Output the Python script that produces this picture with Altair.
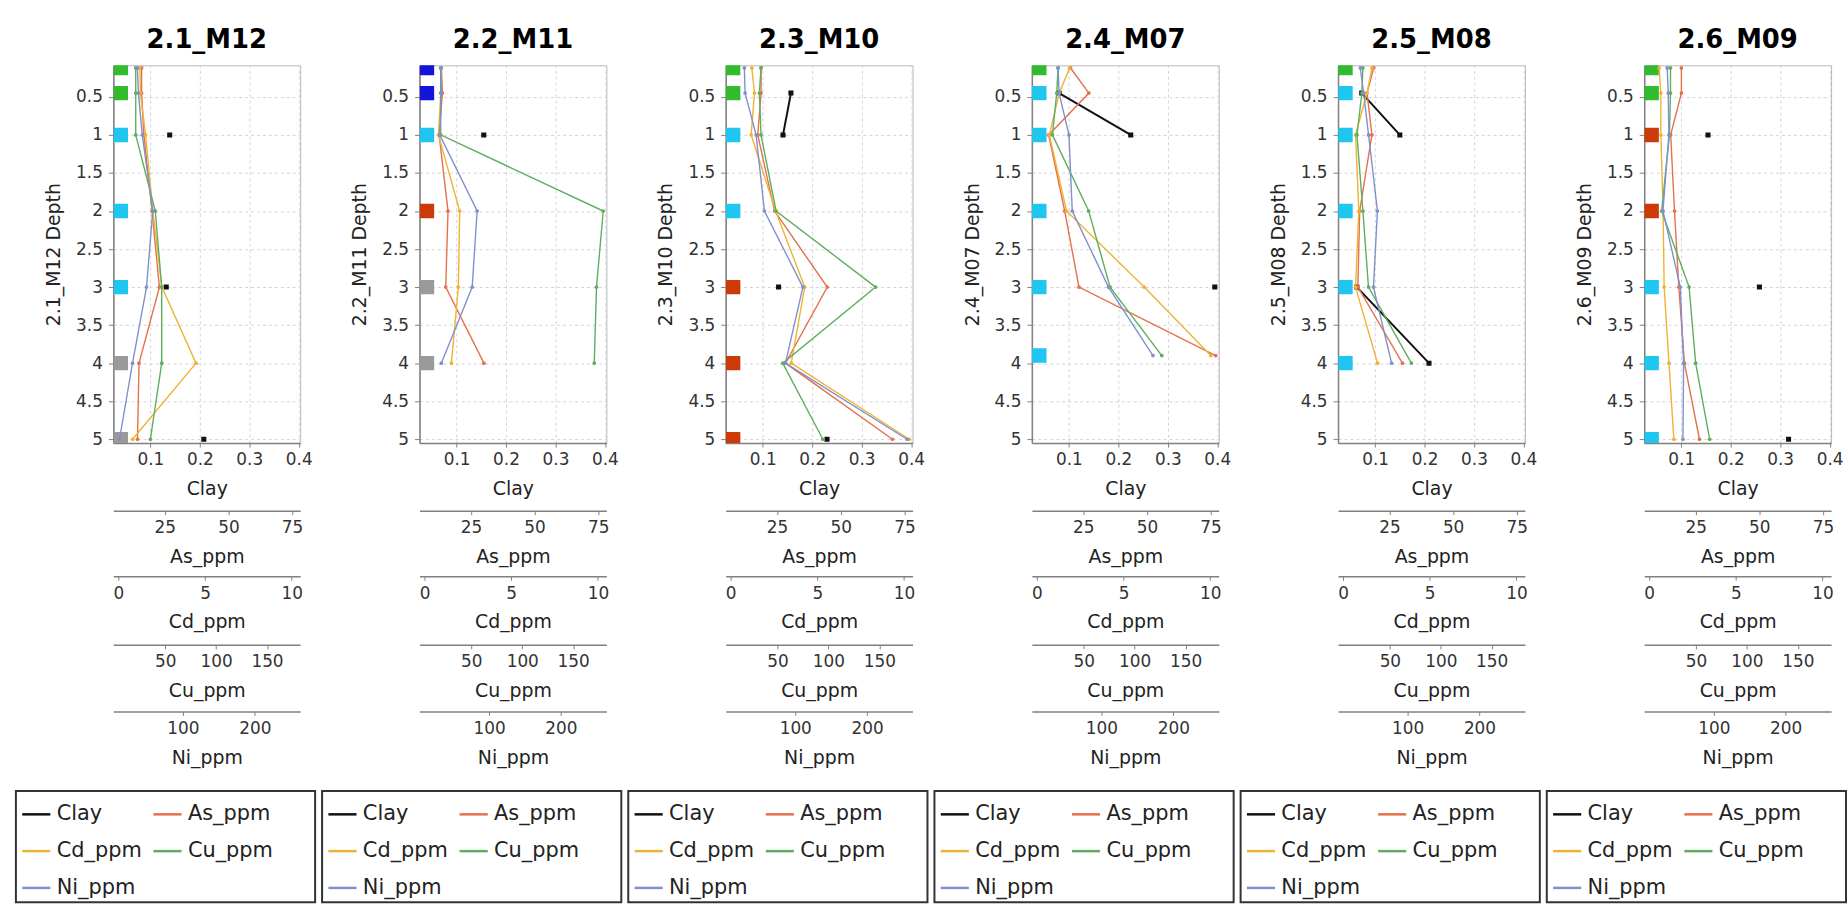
import altair as alt
import pandas as pd

# ---------------- data ----------------
WELLS = ["2.1_M12", "2.2_M11", "2.3_M10", "2.4_M07", "2.5_M08", "2.6_M09"]

WELL = (["2.1_M12"] * 7 + ["2.2_M11"] * 6 + ["2.3_M10"] * 7 +
        ["2.4_M07"] * 6 + ["2.5_M08"] * 6 + ["2.6_M09"] * 7)

DEPTH = [0.12, 0.45, 1, 2, 3, 4, 5,
         0.12, 0.45, 1, 2, 3, 4,
         0.12, 0.45, 1, 2, 3, 4, 5,
         0.12, 0.45, 1, 2, 3, 3.9,
         0.12, 0.45, 1, 2, 3, 4,
         0.12, 0.45, 1, 2, 3, 4, 5]

CLAY = [None, None, 0.139, None, 0.132, None, 0.208,
        None, None, 0.155, None, None, None,
        None, 0.157, 0.141, None, 0.132, None, 0.230,
        None, 0.080, 0.225, None, 0.395, None,
        None, 0.073, 0.150, None, 0.063, 0.209,
        None, None, 0.154, None, 0.258, None, 0.317]

AS_PPM = [15.9, 15.9, 16.8, 20.0, 22.9, 14.9, 14.3,
          13.4, 13.8, 12.5, 16.0, 15.1, 30.1,
          18.7, 18.7, 17.4, 24.0, 44.7, 28.3, 70.3,
          20.0, 27.2, 11.4, 17.7, 23.3, 77.0,
          18.8, 16.2, 18.1, 13.3, 12.6, 30.1,
          19.4, 19.4, 15.2, 16.7, 18.4, 20.6, 26.5]

CD_PPM = [1.24, 1.27, 1.57, 1.99, 2.51, 4.48, 0.82,
          0.94, 0.94, 0.80, 2.03, 1.95, 1.55,
          1.22, 1.37, 1.18, 2.59, 4.27, 3.49, 10.30,
          1.89, 1.29, 0.72, 1.71, 6.19, 10.03,
          1.67, 1.38, 0.72, 0.91, 0.72, 1.99,
          0.57, 0.67, 0.67, 0.80, 0.86, 1.14, 1.42]

CU_PPM = [21.1, 21.1, 21.1, 40.3, 46.6, 46.6, 35.5,
          19.9, 19.9, 19.9, 179.5, 172.9, 170.7,
          33.8, 32.2, 33.8, 48.6, 146.3, 55.1, 94.5,
          24.8, 23.5, 19.3, 54.9, 75.9, 126.7,
          23.5, 22.5, 17.7, 23.5, 29.0, 71.1,
          24.9, 24.9, 23.9, 16.2, 43.2, 49.6, 63.4]

NI_PPM = [36.7, 38.1, 43.5, 58.0, 49.4, 29.9, 11.8,
          32.7, 33.6, 31.3, 83.4, 76.5, 33.6,
          29.2, 30.2, 45.5, 57.1, 110.6, 86.4, 255.6,
          39.7, 41.1, 54.8, 59.4, 109.8, 171.7,
          34.2, 38.8, 45.7, 58.0, 52.5, 77.7,
          35.2, 36.6, 37.5, 29.3, 53.4, 58.0, 57.1]

G, C, GY, B, R = "#33bb2e", "#1ec6f0", "#9a9a9a", "#1414dc", "#cc3a08"
LITH = [G, G, C, C, C, GY, GY,
        B, B, C, R, GY, GY,
        G, G, C, C, R, R, R,
        G, C, C, C, C, C,
        G, C, C, C, C, C,
        G, G, R, R, C, C, C]

SERIES = ["Clay", "As_ppm", "Cd_ppm", "Cu_ppm", "Ni_ppm"]
SERIES_COLORS = ["#111111", "#e4704c", "#f0b233", "#5fae5f", "#8090cc"]
DOMAINS = {"Clay": [0.025, 0.403], "As_ppm": [4.8, 78.2], "Cd_ppm": [-0.29, 10.49],
           "Cu_ppm": [-0.9, 182.6], "Ni_ppm": [3.2, 263.2]}
TICKS = {"Clay": [0.1, 0.2, 0.3, 0.4], "As_ppm": [25, 50, 75], "Cd_ppm": [0, 5, 10],
         "Cu_ppm": [50, 100, 150], "Ni_ppm": [100, 200]}
FORMATS = {"Clay": ".1f", "As_ppm": "d", "Cd_ppm": "d", "Cu_ppm": "d", "Ni_ppm": "d"}
DEPTH_TICKS = [0.5, 1, 1.5, 2, 2.5, 3, 3.5, 4, 4.5, 5]

df = pd.DataFrame({"well": WELL, "depth": DEPTH, "Clay": CLAY, "As_ppm": AS_PPM,
                   "Cd_ppm": CD_PPM, "Cu_ppm": CU_PPM, "Ni_ppm": NI_PPM, "lith": LITH})

# ---------------- styling ----------------
FONT = "DejaVu Sans"
PW, PH = 188, 380
AXIS_OFFSETS = [0, 68, 134, 203, 270]
GRID = "#d4d4d4"
AXC = "#808080"


def plot_panel(well):
    d = df[df["well"] == well]
    base = alt.Chart(d)
    y = alt.Y("depth:Q",
              scale=alt.Scale(domain=[0.085, 5.05], reverse=True, nice=False, zero=False),
              axis=alt.Axis(title=f"{well} Depth", values=DEPTH_TICKS, format="~g",
                            labelFontSize=17, labelColor="#333", titleFontSize=19,
                            titleFontWeight="normal", titleColor="#222",
                            tickSize=5, labelPadding=6, minExtent=93,
                            titleX=-50, titleY=PH / 2, titleBaseline="bottom",
                            titleAngle=270,
                            grid=True, gridDash=[3, 3], gridColor=GRID,
                            domainColor=AXC, tickColor=AXC, domainWidth=1.5))
    lith = base.mark_square(size=210, opacity=1, clip=True).encode(
        x=alt.value(7.5), y=y, color=alt.Color("lith:N", scale=None))
    layers = [lith]
    for s, col, off in zip(SERIES, SERIES_COLORS, AXIS_OFFSETS):
        is_clay = s == "Clay"
        ax = alt.Axis(orient="bottom", offset=off, values=TICKS[s], format=FORMATS[s],
                      title=s, grid=is_clay, gridDash=[3, 3], gridColor=GRID,
                      labelFontSize=17, labelColor="#333", titleFontSize=19,
                      titleFontWeight="normal", titleColor="#222",
                      tickSize=4, labelPadding=5, titlePadding=12, labelFlush=False,
                      domainColor=AXC, tickColor=AXC, domainWidth=1.5)
        pt = alt.OverlayMarkDef(filled=True, size=26 if is_clay else 14,
                                shape="square" if is_clay else "circle",
                                color=col, opacity=1, clip=True)
        line = base.mark_line(color=col, strokeWidth=2 if is_clay else 1.4,
                              invalid="break-paths-filter-domains", point=pt,
                              clip=True).encode(
            x=alt.X(f"{s}:Q", scale=alt.Scale(domain=DOMAINS[s], nice=False, zero=False),
                    axis=ax),
            y=y,
            order=alt.Order("depth:Q"))
        layers.append(line)
    return alt.layer(*layers).resolve_scale(x="independent").properties(
        width=PW, height=PH,
        title=alt.TitleParams(text=well, fontSize=26, font=FONT, fontWeight="bold",
                              anchor="middle", offset=12, color="#000"),
        view=alt.ViewBackground(stroke="#b8b8b8", strokeWidth=1))


def spacer():
    return alt.Chart(pd.DataFrame({"series": SERIES[:1]})).mark_point(opacity=0).properties(
        width=1, height=1, view=alt.ViewBackground(strokeOpacity=0))


def legend_box():
    return alt.Chart(pd.DataFrame({"series": SERIES})).mark_point(opacity=0).encode(
        color=alt.Color("series:N", sort=SERIES,
                        scale=alt.Scale(domain=SERIES, range=SERIES_COLORS),
                        legend=alt.Legend(orient="none", legendX=5, legendY=8, columns=2,
                                          direction="horizontal",
                                          gridAlign="none", symbolType="stroke",
                                          symbolSize=800, symbolStrokeWidth=2.5,
                                          symbolOpacity=1, labelFontSize=21,
                                          labelFont=FONT, labelColor="#222",
                                          rowPadding=11, columnPadding=6,
                                          labelOffset=5, title=None, padding=0))
    ).properties(width=301, height=112,
                 view=alt.ViewBackground(stroke="#333", strokeWidth=2))


def panel(well):
    top = alt.hconcat(spacer(), plot_panel(well), spacing=0).resolve_scale(
        x="independent", y="independent", color="independent")
    return alt.vconcat(top, legend_box(), spacing=22).resolve_scale(
        color="independent", x="independent", y="independent")


chart = alt.hconcat(*[panel(w) for w in WELLS], spacing=3).resolve_scale(
    color="independent", x="independent", y="independent"
).properties(
    padding={"left": 13, "top": 24, "right": 0, "bottom": 0}
).configure(font=FONT).configure_axis(labelFont=FONT, titleFont=FONT)

chart.save("out.html", embed_options={"renderer": "svg", "actions": False})
